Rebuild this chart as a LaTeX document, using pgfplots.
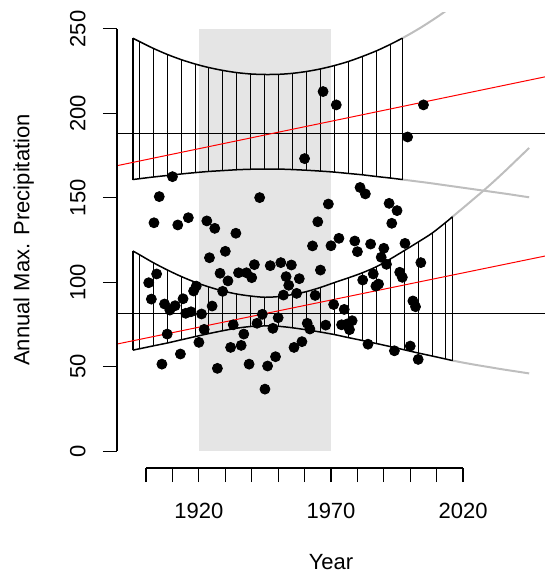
\documentclass[border=0pt]{standalone}
\usepackage{fontspec}
\setmainfont{Liberation Sans}
\usepackage{pgfplots}
\pgfplotsset{compat=1.18}
\definecolor{shade}{gray}{0.898}
\definecolor{rgray}{gray}{0.745}

\begin{document}
\begin{tikzpicture}
\begin{axis}[
    scale only axis,
    width=214pt, height=228pt,
    xmin=1889, xmax=2051,
    ymin=-10, ymax=260,
    axis line style={draw=none},
    clip mode=individual,
    tick align=outside,
    major tick length=7pt,
    tick pos=left,
    tick style={black, line width=0.6pt},
    xtick={1900,1910,...,2020},
    xticklabels={,,1920,,,,,1970,,,,,2020},
    ytick={0,50,...,250},
    font=\fontsize{11}{13}\selectfont,
    /pgf/number format/assume math mode=true,
    xticklabel style={anchor=north, inner sep=0pt},
    yticklabel style={rotate=90, anchor=south, inner sep=0pt},
    xticklabel shift=10.3pt,
    yticklabel shift=8.5pt,
    xlabel={Year},
    ylabel={Annual Max. Precipitation},
    every axis x label/.style={at={(axis description cs:0.5,-0.2235)}, anchor=base},
    every axis y label/.style={at={(axis description cs:-0.2049,0.5)}, rotate=90, anchor=base},
    unbounded coords=jump,
]

% shaded period
\addplot[fill=shade, draw=none] coordinates {(1920,0) (1970,0) (1970,250) (1920,250)} -- cycle;

% hatching, upper band
\addplot[black, line width=0.45pt] coordinates {
    (1897.5,161.3) (1897.5,242.5) (1897.5,nan)
    (1902.7,162.3) (1902.7,238.5) (1902.7,nan)
    (1908.0,163.2) (1908.0,234.9) (1908.0,nan)
    (1913.3,164.1) (1913.3,231.8) (1913.3,nan)
    (1918.6,164.9) (1918.6,229.2) (1918.6,nan)
    (1923.8,165.6) (1923.8,227.1) (1923.8,nan)
    (1929.1,166.1) (1929.1,225.4) (1929.1,nan)
    (1934.4,166.6) (1934.4,224.1) (1934.4,nan)
    (1939.7,166.9) (1939.7,223.3) (1939.7,nan)
    (1944.9,167.0) (1944.9,223.0) (1944.9,nan)
    (1950.2,167.0) (1950.2,223.1) (1950.2,nan)
    (1955.5,166.7) (1955.5,223.7) (1955.5,nan)
    (1960.8,166.3) (1960.8,224.8) (1960.8,nan)
    (1966.0,165.8) (1966.0,226.3) (1966.0,nan)
    (1971.3,165.2) (1971.3,228.3) (1971.3,nan)
    (1976.6,164.4) (1976.6,230.7) (1976.6,nan)
    (1981.9,163.6) (1981.9,233.7) (1981.9,nan)
    (1987.2,162.6) (1987.2,237.0) (1987.2,nan)
    (1992.4,161.7) (1992.4,240.8)
};

% hatching, lower band
\addplot[black, line width=0.45pt] coordinates {
    (1897.5,60.6) (1897.5,116.3) (1897.5,nan)
    (1902.7,62.3) (1902.7,111.6) (1902.7,nan)
    (1908.0,64.0) (1908.0,107.3) (1908.0,nan)
    (1913.3,65.9) (1913.3,103.4) (1913.3,nan)
    (1918.6,67.8) (1918.6,100.0) (1918.6,nan)
    (1923.8,69.6) (1923.8,97.2) (1923.8,nan)
    (1929.1,71.3) (1929.1,94.8) (1929.1,nan)
    (1934.4,72.8) (1934.4,93.0) (1934.4,nan)
    (1939.7,73.8) (1939.7,91.8) (1939.7,nan)
    (1944.9,74.1) (1944.9,91.1) (1944.9,nan)
    (1950.2,73.9) (1950.2,91.5) (1950.2,nan)
    (1955.5,73.0) (1955.5,92.7) (1955.5,nan)
    (1960.8,71.8) (1960.8,94.5) (1960.8,nan)
    (1966.0,70.5) (1966.0,96.9) (1966.0,nan)
    (1971.3,69.0) (1971.3,99.8) (1971.3,nan)
    (1976.6,67.2) (1976.6,102.6) (1976.6,nan)
    (1981.9,65.5) (1981.9,105.6) (1981.9,nan)
    (1987.2,63.7) (1987.2,109.2) (1987.2,nan)
    (1992.4,61.9) (1992.4,113.7) (1992.4,nan)
    (1997.7,60.0) (1997.7,118.7) (1997.7,nan)
    (2003.0,58.1) (2003.0,123.8) (2003.0,nan)
    (2008.3,56.3) (2008.3,129.1) (2008.3,nan)
    (2013.5,54.5) (2013.5,135.5)
};

% gray continuations
\addplot[rgray, line width=1pt, smooth] coordinates {
    (1997,244.5) (2000,247.1) (2004,250.8) (2008,254.8) (2012,259.0) (2016,263.5)
};
\addplot[rgray, line width=1pt, smooth] coordinates {
    (1997,160.8) (2002,159.8) (2007,158.8) (2012,157.7) (2017,156.6) (2022,155.5)
    (2027,154.4) (2032,153.3) (2037,152.2) (2042,151.0) (2045,150.3)
};
\addplot[rgray, line width=1pt, smooth] coordinates {
    (2016,138.8) (2020,144.0) (2024,149.3) (2028,154.6) (2032,160.2) (2036,166.0)
    (2040,172.0) (2045,179.5)
};
\addplot[rgray, line width=1pt, smooth] coordinates {
    (2016,53.6) (2020,52.4) (2025,51.0) (2030,49.7) (2035,48.4) (2040,47.2) (2045,46.0)
};

% band borders, upper
\addplot[black, line width=0.75pt, smooth] coordinates {
    (1895,244.5) (1897.5,242.5) (1902.7,238.5) (1908.0,234.9) (1913.3,231.8)
    (1918.6,229.2) (1923.8,227.1) (1929.1,225.4) (1934.4,224.1) (1939.7,223.3)
    (1944.9,223.0) (1950.2,223.1) (1955.5,223.7) (1960.8,224.8) (1966.0,226.3)
    (1971.3,228.3) (1976.6,230.7) (1981.9,233.7) (1987.2,237.0) (1992.4,240.8)
    (1997,244.5)
};
\addplot[black, line width=0.75pt, smooth] coordinates {
    (1895,160.8) (1897.5,161.3) (1902.7,162.3) (1908.0,163.2) (1913.3,164.1)
    (1918.6,164.9) (1923.8,165.6) (1929.1,166.1) (1934.4,166.6) (1939.7,166.9)
    (1944.9,167.0) (1950.2,167.0) (1955.5,166.7) (1960.8,166.3) (1966.0,165.8)
    (1971.3,165.2) (1976.6,164.4) (1981.9,163.6) (1987.2,162.6) (1992.4,161.7)
    (1997,160.8)
};
\addplot[black, line width=0.75pt] coordinates {(1895,160.8) (1895,244.5)};
\addplot[black, line width=0.75pt] coordinates {(1997,160.8) (1997,244.5)};

% band borders, lower
\addplot[black, line width=0.75pt, smooth] coordinates {
    (1895,118.5) (1897.5,116.3) (1902.7,111.6) (1908.0,107.3) (1913.3,103.4)
    (1918.6,100.0) (1923.8,97.2) (1929.1,94.8) (1934.4,93.0) (1939.7,91.8)
    (1944.9,91.1) (1950.2,91.5) (1955.5,92.7) (1960.8,94.5) (1966.0,96.9)
    (1971.3,99.8) (1976.6,102.6) (1981.9,105.6) (1987.2,109.2) (1992.4,113.7)
    (1997.7,118.7) (2003.0,123.8) (2008.3,129.1) (2013.5,135.5) (2016,138.8)
};
\addplot[black, line width=0.75pt, smooth] coordinates {
    (1895,59.8) (1897.5,60.6) (1902.7,62.3) (1908.0,64.0) (1913.3,65.9)
    (1918.6,67.8) (1923.8,69.6) (1929.1,71.3) (1934.4,72.8) (1939.7,73.8)
    (1944.9,74.1) (1950.2,73.9) (1955.5,73.0) (1960.8,71.8) (1966.0,70.5)
    (1971.3,69.0) (1976.6,67.2) (1981.9,65.5) (1987.2,63.7) (1992.4,61.9)
    (1997.7,60.0) (2003.0,58.1) (2008.3,56.3) (2013.5,54.5) (2016,53.6)
};
\addplot[black, line width=0.75pt] coordinates {(1895,59.8) (1895,118.5)};
\addplot[black, line width=0.75pt] coordinates {(2016,53.6) (2016,138.8)};

% horizontal reference levels
\addplot[black, line width=0.5pt] coordinates {(1889,188.0) (2051,188.0)};
\addplot[black, line width=0.5pt] coordinates {(1889,81.6) (2051,81.6)};

% trend lines
\addplot[red, line width=0.5pt] coordinates {(1889,169.0) (2051,221.6)};
\addplot[red, line width=0.5pt] coordinates {(1889,63.4) (2051,115.5)};

% annual maxima
\addplot[only marks, mark=*, mark size=2.5pt, black] coordinates {
    (1901,99.7) (1902,90.0) (1903,135.2) (1904,104.9) (1905,150.7)
    (1906,51.5) (1907,87.1) (1908,69.3) (1909,83.5) (1910,162.5)
    (1911,86.1) (1912,133.9) (1913,57.5) (1914,90.2) (1915,81.6)
    (1916,138.2) (1917,82.5) (1918,94.8) (1919,97.7) (1920,64.4)
    (1921,81.2) (1922,72.1) (1923,136.3) (1924,114.5) (1925,85.9)
    (1926,131.9) (1927,49.0) (1928,105.3) (1929,94.6) (1930,118.3)
    (1931,100.8) (1932,61.4) (1933,74.8) (1934,129.0) (1935,105.6)
    (1936,62.6) (1937,69.3) (1938,105.6) (1939,51.5) (1940,102.7)
    (1941,110.4) (1942,75.7) (1943,150.1) (1944,81.0) (1945,36.7)
    (1946,50.4) (1947,109.8) (1948,72.7) (1949,55.9) (1950,79.0)
    (1951,111.6) (1952,92.4) (1953,103.3) (1954,98.2) (1955,110.2)
    (1956,61.4) (1957,93.4) (1958,102.1) (1959,64.8) (1960,173.2)
    (1961,75.7) (1962,72.3) (1963,121.5) (1964,92.2) (1965,135.8)
    (1966,107.2) (1967,212.9) (1968,74.6) (1969,146.3) (1970,121.6)
    (1971,86.8) (1972,205.0) (1973,126.0) (1974,74.8) (1975,83.9)
    (1976,75.2) (1977,71.9) (1978,77.2) (1979,124.4) (1980,118.1)
    (1981,156.1) (1982,101.3) (1983,152.3) (1984,63.3) (1985,122.6)
    (1986,104.9) (1987,97.7) (1988,98.9) (1989,114.8) (1990,120.1)
    (1991,110.6) (1992,146.7) (1993,134.9) (1994,59.4) (1995,142.4)
    (1996,105.9) (1997,102.9) (1998,123.0) (1999,186.0) (2000,62.2)
    (2001,88.9) (2002,85.5) (2003,54.3) (2004,111.6) (2005,205.0)
};

% R-style axis lines spanning first to last tick
\draw[black, line width=0.6pt] (axis cs:1889,0) -- (axis cs:1889,250);
\draw[black, line width=0.6pt] (axis cs:1900,-10) -- (axis cs:2020,-10);

\coordinate (bbl) at (rel axis cs:-0.27336,-0.23026);
\coordinate (btr) at (rel axis cs:1,1.02632);
\end{axis}
\pgfresetboundingbox
\useasboundingbox (bbl) rectangle (btr);
\end{tikzpicture}
\end{document}
